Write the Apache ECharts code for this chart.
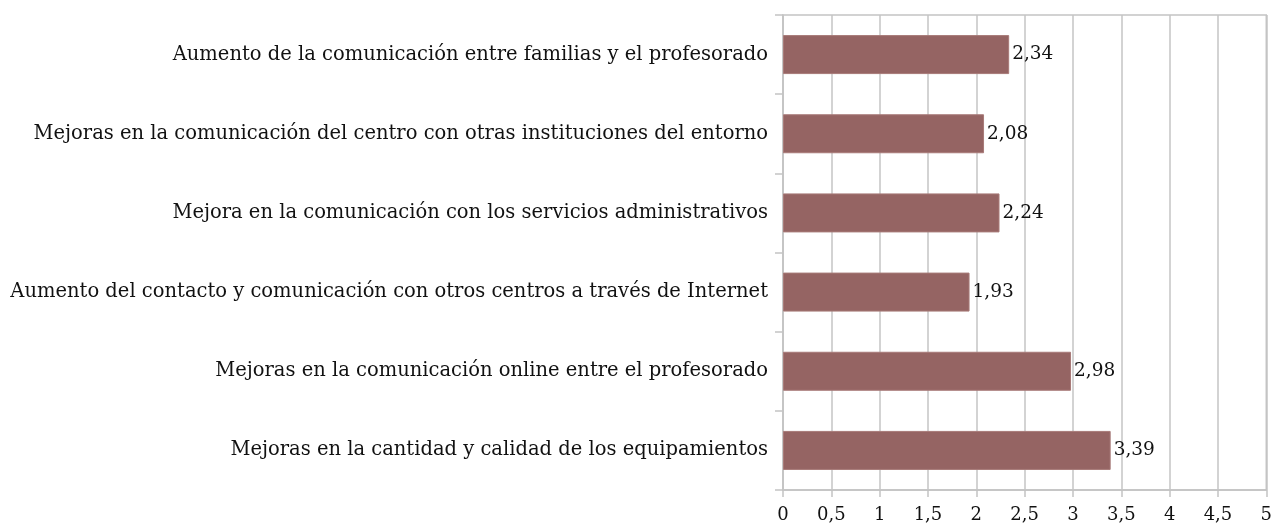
<!DOCTYPE html>
<html>
<head>
<meta charset="utf-8">
<script src="https://cdn.jsdelivr.net/npm/echarts@6/dist/echarts.min.js"></script>
<style>
  html, body { margin: 0; padding: 0; background: #fff; }
  #chart { width: 1275px; height: 525px; }
</style>
</head>
<body>
<div id="chart"></div>
<script>
// categories listed bottom to top (ECharts category y axis starts at the bottom)
const categories = [
  'Mejoras en la cantidad y calidad de los equipamientos',
  'Mejoras en la comunicación online entre el profesorado',
  'Aumento del contacto y comunicación con otros centros a través de Internet',
  'Mejora en la comunicación con los servicios administrativos',
  'Mejoras en la comunicación del centro con otras instituciones del entorno',
  'Aumento de la comunicación entre familias y el profesorado'
];
const values = [3.39, 2.98, 1.93, 2.24, 2.08, 2.34];

const fmt = v => String(v).replace('.', ',');
const serif = '"DejaVu Serif", "Liberation Serif", serif';

const chart = echarts.init(document.getElementById('chart'));
chart.setOption({
  animation: false,
  grid: {
    left: 783,
    right: 5,
    top: 15,
    bottom: 35,
    show: true,
    borderColor: '#c4c4c4',
    borderWidth: 1.5
  },
  xAxis: {
    type: 'value',
    min: 0,
    max: 5,
    interval: 0.5,
    axisLine: { show: true, lineStyle: { color: '#c4c4c4', width: 1.5 } },
    axisTick: { show: true, length: 7, lineStyle: { color: '#c4c4c4', width: 1.5 } },
    splitLine: { show: true, lineStyle: { color: '#c4c4c4', width: 1.5 } },
    axisLabel: {
      color: '#111',
      fontFamily: serif,
      fontSize: 18,
      margin: 16,
      formatter: v => fmt(v)
    }
  },
  yAxis: {
    type: 'category',
    data: categories,
    axisLine: { show: true, lineStyle: { color: '#c4c4c4', width: 1.5 } },
    axisTick: { show: true, length: 8, lineStyle: { color: '#c4c4c4', width: 1.5 } },
    axisLabel: {
      color: '#111',
      fontFamily: serif,
      fontSize: 19.5,
      margin: 15
    }
  },
  series: [{
    type: 'bar',
    data: values,
    barWidth: 39,
    itemStyle: {
      color: '#956463',
      borderColor: '#a87a78',
      borderWidth: 1
    },
    label: {
      show: true,
      position: 'right',
      distance: 3,
      color: '#111',
      fontFamily: serif,
      fontSize: 18.5,
      formatter: p => fmt(p.value)
    }
  }]
});
</script>
</body>
</html>
